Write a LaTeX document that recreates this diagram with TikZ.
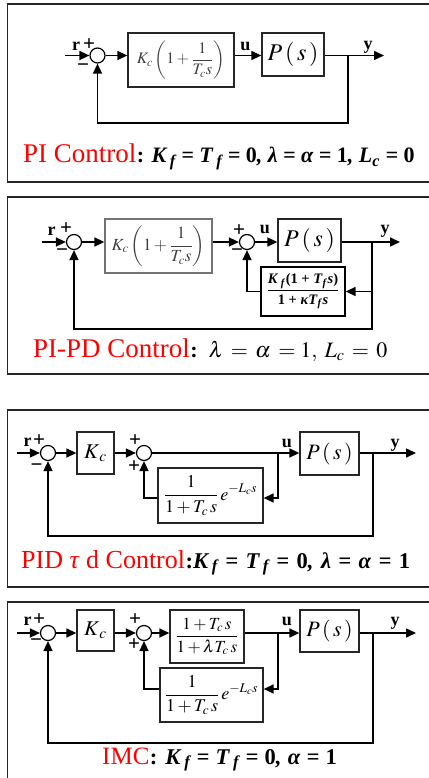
\documentclass[tikz,border=0pt]{standalone}
\usepackage{mathptmx}
\usepackage[no-math]{fontspec}
\setmainfont{Liberation Serif}
\usetikzlibrary{arrows.meta}
\newcommand{\iv}[1]{\textit{#1}}
\newcommand{\up}[1]{{\upshape #1}}
\tikzset{
  wire/.style={line width=1.5pt},
  arr/.style={wire,-{Triangle[length=10pt,width=9pt]}},
  sumj/.style={draw,circle,line width=1.2pt,minimum size=15pt,inner sep=0pt},
  blk/.style={draw=black!85,line width=1.3pt,inner sep=0pt},
  sig/.style={font=\bfseries\fontsize{18}{18}\selectfont,inner sep=0pt},
  sgn/.style={font=\bfseries\fontsize{21}{21}\selectfont,inner sep=0pt},
  ctl/.style={text=red,font=\fontsize{27}{27}\selectfont,inner sep=0pt,anchor=base west},
  cnd/.style={font=\bfseries\itshape\fontsize{22}{22}\selectfont,inner sep=0pt,anchor=base west},
  frame/.style={line width=1.3pt,draw=black!85}
}
\begin{document}
\begin{tikzpicture}[x=1pt,y=-1pt]
\useasboundingbox (0,0) rectangle (428,778);

\draw[frame] (430,4) -- (7.5,4) -- (7.5,182) -- (430,182);
\node[sumj] (s1) at (97.5,55.5) {};
\node[blk,minimum width=106pt,minimum height=54pt,text=black!75,font=\fontsize{16}{16}\selectfont] (pi1) at (181,60) {$K_c\left(1+\displaystyle\frac{1}{T_c s}\right)$};
\node[blk,minimum width=62pt,minimum height=43pt,font=\fontsize{24}{24}\selectfont] (p1) at (293,54.5) {$P\,(\,s\,)$};
\coordinate (in1) at (65,55.5);
\coordinate (br1) at (348,55.5);
\coordinate (out1) at (384,55.5);
\coordinate (fb1) at (348,123);
\draw[arr] (in1) -- (s1);
\draw[arr] (s1) -- (s1 -| pi1.west);
\draw[arr] (pi1.east |- s1) -- (s1 -| p1.west);
\draw[arr] (p1.east |- s1) -- (out1);
\draw[arr] (br1) -- (fb1) -| (s1);
\node[sig] (r1) at (76,46) {r};
\node[sgn] (pl1) at (89,44.5) {+};
\node[sgn] (mi1) at (83,68) {−};
\node[sig] (u1) at (245.5,46) {u};
\node[sig] (y1) at (368,47) {y};
\node[ctl] (t1) at (23,163) {PI Control};
\node[cnd] (c1) at (t1.base east) {\up{:} K\,\textsubscript{f} = T\,\textsubscript{f} = \up{0}, λ = α = \up{1}, L\textsubscript{c} = \up{0}};

\draw[frame] (430,197) -- (7.5,197) -- (7.5,374) -- (430,374);
\node[sumj] (s21) at (74,242) {};
\node[sumj] (s22) at (247,242) {};
\node[blk,draw=black!55,minimum width=107pt,minimum height=54pt,text=black!75,font=\fontsize{17}{17}\selectfont] (pi2) at (158.5,246) {$K_c\left(1+\displaystyle\frac{1}{T_c s}\right)$};
\node[blk,minimum width=63pt,minimum height=43pt,font=\fontsize{24}{24}\selectfont] (p2) at (309.5,240.5) {$P\,(\,s\,)$};
\node[blk,draw=black,minimum width=84pt,minimum height=49pt,font=\bfseries\fontsize{14.5}{14.5}\selectfont] (f2) at (303,291.5) {$\displaystyle\frac{\mbox{\iv{K}\,\textsubscript{\iv{f}}(1 + \iv{T}\textsubscript{\iv{f}}\iv{s})}}{\mbox{1 + \iv{κT}\textsubscript{\iv{f}}\iv{s}}}$};
\coordinate (in2) at (42,242);
\coordinate (br2) at (372,242);
\coordinate (out2) at (400,242);
\coordinate (fb2) at (372,329);
\draw[arr] (in2) -- (s21);
\draw[arr] (s21) -- (s21 -| pi2.west);
\draw[arr] (pi2.east |- s22) -- (s22);
\draw[arr] (s22) -- (s22 -| p2.west);
\draw[arr] (p2.east |- s22) -- (out2);
\draw[arr] (br2) -- (fb2) -| (s21);
\draw[arr] (br2 |- f2) -- (f2);
\draw[arr] (f2) -| (s22);
\node[sig] (r2) at (51.5,231) {r};
\node[sgn] (pl21) at (66,229) {+};
\node[sgn] (mi21) at (62,253) {−};
\node[sgn] (pl22) at (239,231) {+};
\node[sgn] (mi22) at (237,253) {−};
\node[sig] (u2) at (265,229) {u};
\node[sig] (y2) at (385,231) {y};
\node[ctl] (t2) at (33,357) {PI-PD Control};
\node[cnd,font=\fontsize{22}{22}\selectfont] (c2) at (t2.base east) {\textbf{:}\ \ $\lambda\,=\,\alpha\,=1,\;L_c\,=\,0$};

\draw[frame] (430,410) -- (7.5,410) -- (7.5,587) -- (430,587);
\node[sumj] (s31) at (48,453) {};
\node[sumj] (s32) at (144,453) {};
\node[blk,minimum width=37pt,minimum height=42pt,font=\fontsize{21}{21}\selectfont] (k3) at (95.5,453) {$K_{\,c}$};
\node[blk,minimum width=59pt,minimum height=43pt,font=\fontsize{22}{22}\selectfont] (p3) at (329.5,453.5) {$P\,(\,s\,)$};
\node[blk,minimum width=105pt,minimum height=55pt,font=\fontsize{18}{18}\selectfont] (d3) at (210.5,495.5) {$\displaystyle\frac{1}{1+T_c\,s}\,e^{-L_c s}$};
\coordinate (in3) at (17,453);
\coordinate (bi3) at (278,453);
\coordinate (bi3b) at (278,498);
\coordinate (br3) at (373,453);
\coordinate (out3) at (416,453);
\coordinate (fb3) at (373,536);
\draw[arr] (in3) -- (s31);
\draw[arr] (s31) -- (k3);
\draw[arr] (k3) -- (s32);
\draw[arr] (s32) -- (s32 -| p3.west);
\draw[arr] (p3.east |- s32) -- (out3);
\draw[arr] (br3) -- (fb3) -| (s31);
\draw[arr] (bi3) -- (bi3b) -- (bi3b -| d3.east);
\draw[arr] (d3.west |- bi3b) -| (s32);
\node[sig] (r3) at (27.5,442) {r};
\node[sgn] (pl31) at (39,441) {+};
\node[sgn] (mi31) at (36.5,468) {−};
\node[sgn] (pl32) at (135,441) {+};
\node[sgn] (pl33) at (134,467) {+};
\node[sig] (u3) at (287,443) {u};
\node[sig] (y3) at (395,445) {y};
\node[ctl,font=\fontsize{26}{26}\selectfont] (t3) at (21,568) {PID \textit{τ} d Control};
\node[cnd,font=\bfseries\itshape\fontsize{22.5}{22.5}\selectfont] (c3) at (t3.base east) {\spaceskip=0.33em\relax\up{:}K\,\textsubscript{f} = T\,\textsubscript{f} = \up{0}, λ = α = \up{1}};

\draw[frame] (430,602) -- (7.5,602) -- (7.5,780);
\node[sumj] (s41) at (48,633) {};
\node[sumj] (s42) at (144,633) {};
\node[blk,minimum width=37pt,minimum height=41pt,font=\fontsize{21}{21}\selectfont] (k4) at (95.5,630.5) {$K_{\,c}$};
\node[blk,minimum width=74pt,minimum height=53pt,font=\fontsize{17}{17}\selectfont] (g4) at (207,636.5) {$\displaystyle\frac{1+T_c\,s}{1+\lambda T_c\,s}$};
\node[blk,minimum width=59pt,minimum height=42pt,font=\fontsize{22}{22}\selectfont] (p4) at (329.5,631) {$P\,(\,s\,)$};
\node[blk,minimum width=103pt,minimum height=54pt,font=\fontsize{18}{18}\selectfont] (d4) at (211.5,695) {$\displaystyle\frac{1}{1+T_c\,s}\,e^{-L_c s}$};
\coordinate (in4) at (17,633);
\coordinate (bi4) at (278,633);
\coordinate (bi4b) at (278,689);
\coordinate (br4) at (373,633);
\coordinate (out4) at (416,633);
\coordinate (fb4) at (373,743);
\draw[arr] (in4) -- (s41);
\draw[arr] (s41) -- (s41 -| k4.west);
\draw[arr] (k4.east |- s41) -- (s42);
\draw[arr] (s42) -- (s42 -| g4.west);
\draw[arr] (g4.east |- s42) -- (s42 -| p4.west);
\draw[arr] (p4.east |- s42) -- (out4);
\draw[arr] (br4) -- (fb4) -| (s41);
\draw[arr] (bi4) -- (bi4b) -- (bi4b -| d4.east);
\draw[arr] (d4.west |- bi4b) -| (s42);
\node[sig] (r4) at (27.5,621) {r};
\node[sgn] (pl41) at (39,620) {+};
\node[sgn] (mi41) at (36,643) {−};
\node[sgn] (pl42) at (135,620) {+};
\node[sgn] (pl43) at (134,645) {+};
\node[sig] (u4) at (287,621) {u};
\node[sig] (y4) at (395,623) {y};
\node[ctl,font=\fontsize{25}{25}\selectfont] (t4) at (102,764) {IMC};
\node[cnd,font=\bfseries\itshape\fontsize{22.5}{22.5}\selectfont] (c4) at (t4.base east) {\spaceskip=0.28em\relax\up{:} K\,\textsubscript{f} = T\,\textsubscript{f} = \up{0}, α = \up{1}};
\end{tikzpicture}
\end{document}
